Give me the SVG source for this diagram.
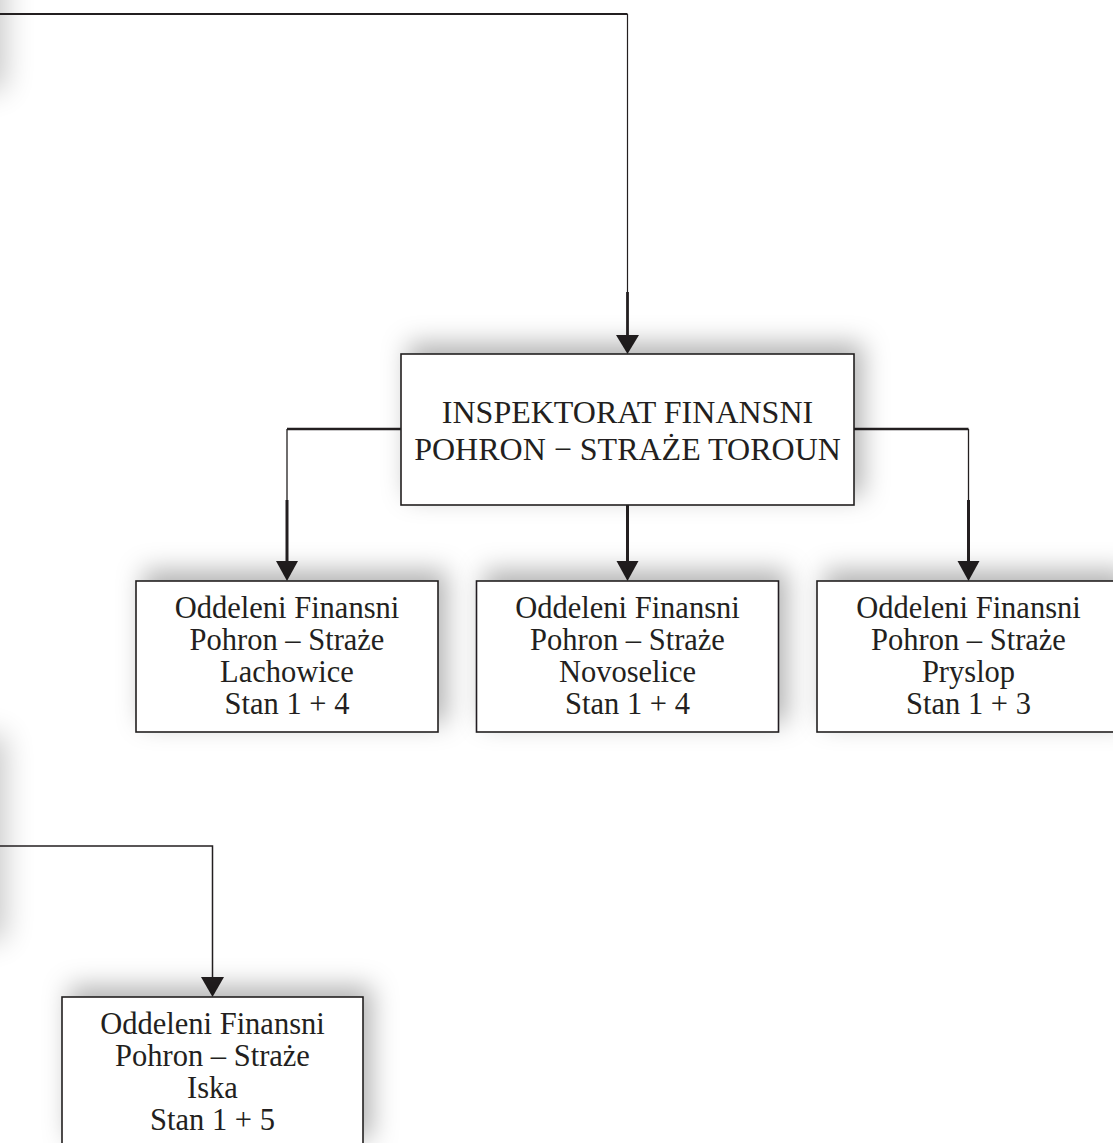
<svg xmlns="http://www.w3.org/2000/svg" width="1113" height="1143" viewBox="0 0 1113 1143">
<defs>
<style>
.box{fill:#fff;stroke:#231f20;stroke-width:1.6}
.t{font-family:'Liberation Serif','DejaVu Serif',serif;fill:#231f20;text-anchor:middle}
.h{font-size:32px}
.s{font-size:30.5px}
.ln{fill:none;stroke:#231f20;stroke-linecap:butt}
.ah{fill:#231f20}
</style>
<filter id="sh" x="-30%" y="-50%" width="160%" height="190%">
<feDropShadow dx="8" dy="-10" stdDeviation="13" flood-color="#000" flood-opacity="0.3"/>
</filter>
<filter id="blur" x="-50%" y="-50%" width="200%" height="200%">
<feGaussianBlur stdDeviation="15"/>
</filter>
</defs>
<rect width="1113" height="1143" fill="#fff"/>
<rect x="-220" y="-100" width="225" height="190" fill="#000" opacity="0.22" filter="url(#blur)"/>
<rect x="-220" y="735" width="225" height="205" fill="#000" opacity="0.22" filter="url(#blur)"/>

<g id="connectors">
<path class="ln" d="M0 14 H627.5" stroke-width="2.2"/>
<path class="ln" d="M627.5 14 V292" stroke-width="1.2"/>
<path class="ln" d="M627.5 292 V337" stroke-width="2.8"/>
<polygon class="ah" points="616,335 639,335 627.5,354"/>

<path class="ln" d="M401 429 H287" stroke-width="2.4"/>
<path class="ln" d="M287 429 V500" stroke-width="1.3"/>
<path class="ln" d="M287 500 V563" stroke-width="3"/>
<polygon class="ah" points="276,561 298,561 287,581"/>

<path class="ln" d="M627.5 505 V563" stroke-width="3"/>
<polygon class="ah" points="616.5,561 638.5,561 627.5,581"/>

<path class="ln" d="M854 429 H968.5" stroke-width="2.4"/>
<path class="ln" d="M968.5 429 V500" stroke-width="1.3"/>
<path class="ln" d="M968.5 500 V563" stroke-width="3"/>
<polygon class="ah" points="957.5,561 979.5,561 968.5,581"/>

<path class="ln" d="M0 846 H212.5 V979" stroke-width="1.5"/>
<polygon class="ah" points="201,977 224,977 212.5,997"/>
</g>

<g id="inspektorat">
<rect class="box" x="401" y="354" width="453" height="151" filter="url(#sh)"/>
<text class="t h" x="627.5" y="423">INSPEKTORAT FINANSNI</text>
<text class="t h" x="627.5" y="460">POHRON − STRAŻE TOROUN</text>
</g>

<g id="lachowice">
<rect class="box" x="136" y="581" width="302" height="151" filter="url(#sh)"/>
<text class="t s" x="287" y="618">Oddeleni Finansni</text>
<text class="t s" x="287" y="650">Pohron – Straże</text>
<text class="t s" x="287" y="682">Lachowice</text>
<text class="t s" x="287" y="714">Stan 1 + 4</text>
</g>

<g id="novoselice">
<rect class="box" x="476.5" y="581" width="302" height="151" filter="url(#sh)"/>
<text class="t s" x="627.5" y="618">Oddeleni Finansni</text>
<text class="t s" x="627.5" y="650">Pohron – Straże</text>
<text class="t s" x="627.5" y="682">Novoselice</text>
<text class="t s" x="627.5" y="714">Stan 1 + 4</text>
</g>

<g id="pryslop">
<rect class="box" x="817" y="581" width="303" height="151" filter="url(#sh)"/>
<text class="t s" x="968.5" y="618">Oddeleni Finansni</text>
<text class="t s" x="968.5" y="650">Pohron – Straże</text>
<text class="t s" x="968.5" y="682">Pryslop</text>
<text class="t s" x="968.5" y="714">Stan 1 + 3</text>
</g>

<g id="iska">
<rect class="box" x="62" y="997" width="301" height="151" filter="url(#sh)"/>
<text class="t s" x="212.5" y="1034">Oddeleni Finansni</text>
<text class="t s" x="212.5" y="1066">Pohron – Straże</text>
<text class="t s" x="212.5" y="1098">Iska</text>
<text class="t s" x="212.5" y="1130">Stan 1 + 5</text>
</g>
</svg>
